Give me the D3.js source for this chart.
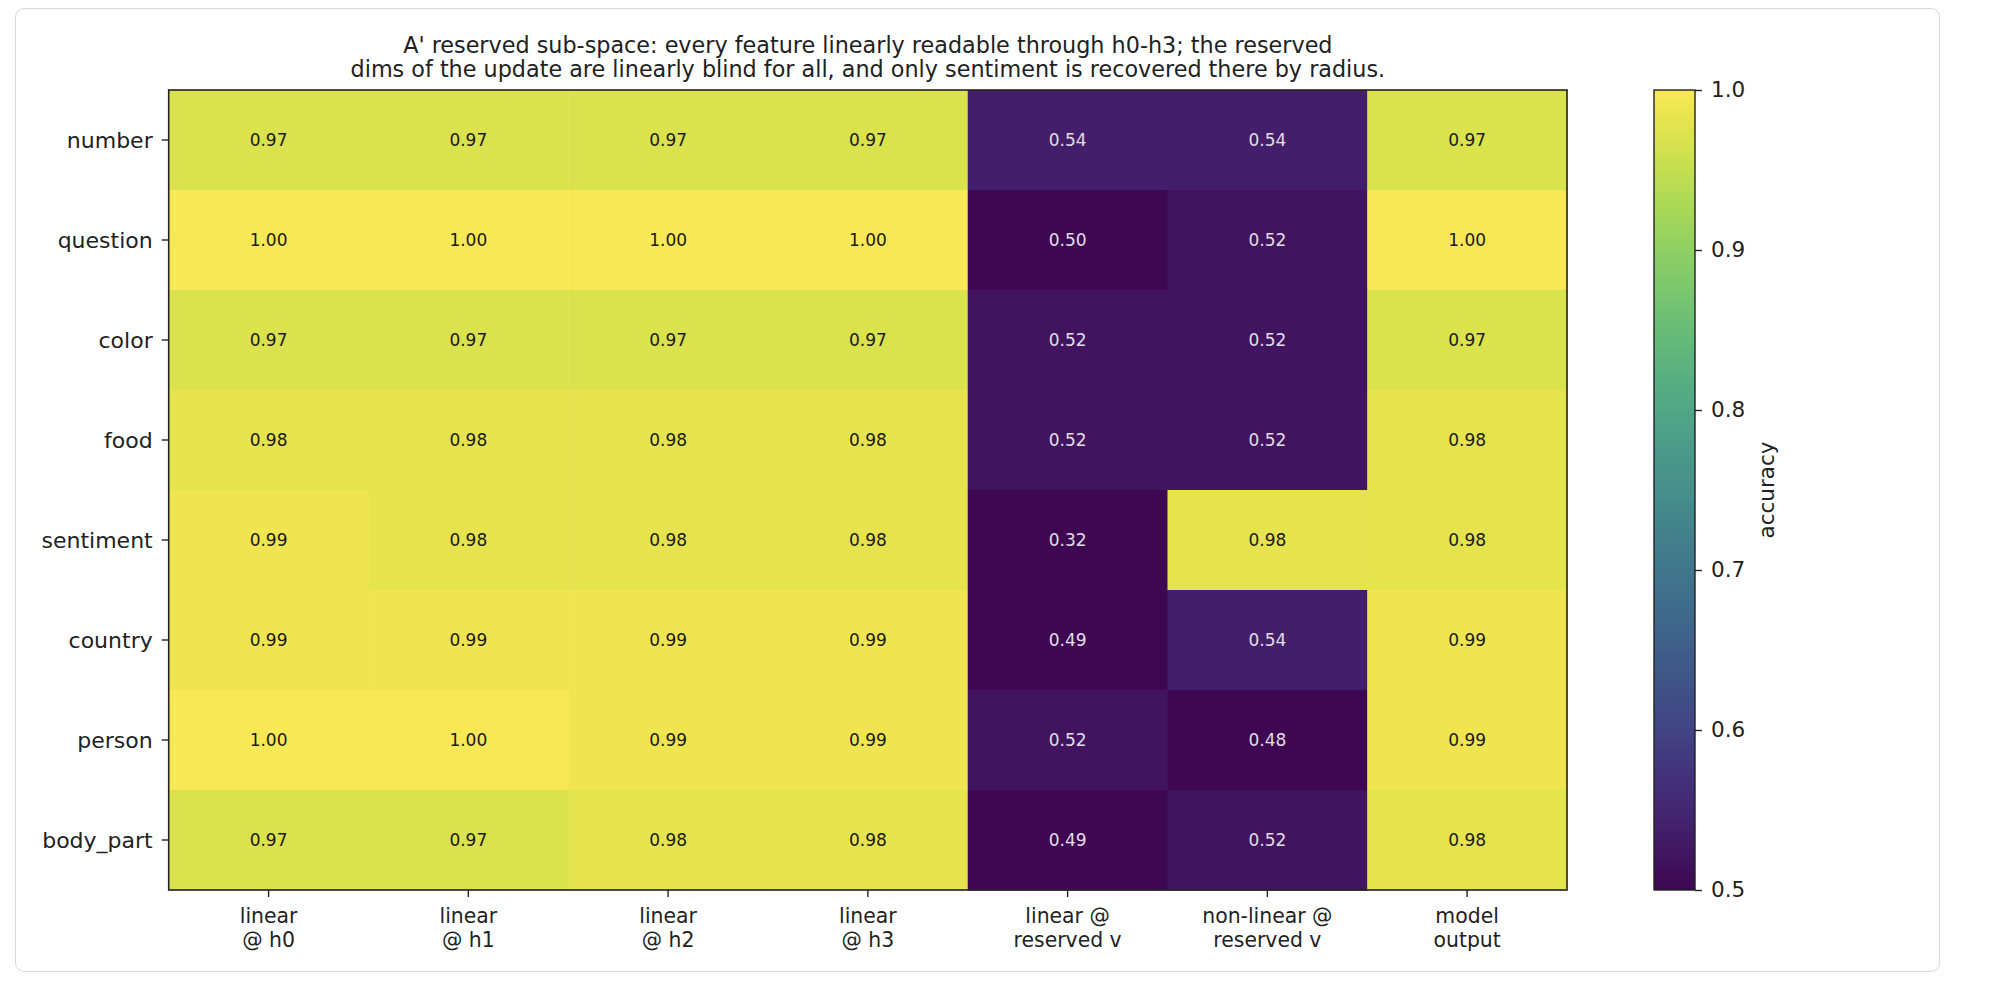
<!DOCTYPE html>
<html>
<head>
<meta charset="utf-8">
<script src="https://cdn.jsdelivr.net/npm/d3@7"></script>
<style>
  body { margin: 0; background: #fff; }
  .card { position: absolute; left: 15px; top: 8px; width: 1925px; height: 964px;
          border: 1.5px solid #d5d9dd; border-radius: 9px; box-sizing: border-box; }
  svg { position: absolute; left: 0; top: 0; }
  svg text { font-family: "DejaVu Sans", sans-serif; }
</style>
</head>
<body>
<div class="card"></div>
<div id="chart"></div>
<script>
(function(){

var features = ["number", "question", "color", "food", "sentiment", "country", "person", "body_part"];
var probes = ["linear\n@ h0", "linear\n@ h1", "linear\n@ h2", "linear\n@ h3",
              "linear @\nreserved v", "non-linear @\nreserved v", "model\noutput"];
var accuracy = [
  [0.97, 0.97, 0.97, 0.97, 0.54, 0.54, 0.97],
  [1.00, 1.00, 1.00, 1.00, 0.50, 0.52, 1.00],
  [0.97, 0.97, 0.97, 0.97, 0.52, 0.52, 0.97],
  [0.98, 0.98, 0.98, 0.98, 0.52, 0.52, 0.98],
  [0.99, 0.98, 0.98, 0.98, 0.32, 0.98, 0.98],
  [0.99, 0.99, 0.99, 0.99, 0.49, 0.54, 0.99],
  [1.00, 1.00, 0.99, 0.99, 0.52, 0.48, 0.99],
  [0.97, 0.97, 0.98, 0.98, 0.49, 0.52, 0.98]
];
var cbarTicks = [0.5, 0.6, 0.7, 0.8, 0.9, 1.0];
var title = ["A' reserved sub-space: every feature linearly readable through h0-h3; the reserved",
             "dims of the update are linearly blind for all, and only sentiment is recovered there by radius."];

var FONT = "'DejaVu Sans', sans-serif";
var W = 1999, H = 1004;
var left = 168.7, right = 1567, top = 90, bottom = 890;

// the reference screenshot carries a wide-gamut profile, so viridis looks a bit washed out
function shift(c) {
  var rgb = d3.rgb(c);
  var lin = [rgb.r, rgb.g, rgb.b].map(function(v) {
    v /= 255;
    return v <= 0.04045 ? v / 12.92 : Math.pow((v + 0.055) / 1.055, 2.4);
  });
  var m = [[0.8225, 0.1774, 0], [0.0332, 0.9669, 0], [0.0171, 0.0724, 0.9108]];
  var out = m.map(function(row) {
    var v = row[0] * lin[0] + row[1] * lin[1] + row[2] * lin[2];
    v = v <= 0.0031308 ? 12.92 * v : 1.055 * Math.pow(v, 1 / 2.4) - 0.055;
    return Math.round(Math.max(0, Math.min(1, v)) * 255);
  });
  return d3.rgb(out[0], out[1], out[2]).formatHex();
}
function viridis(t) { return shift(d3.interpolateViridis(t)); }

var svg = d3.select("#chart")
  .append("svg")
    .attr("width", W)
    .attr("height", H);

var x = d3.scaleBand().domain(d3.range(probes.length)).range([left, right]);
var y = d3.scaleBand().domain(d3.range(features.length)).range([top, bottom]);
var color = d3.scaleSequential(viridis).domain([0.5, 1.0]).clamp(true);

var cells = [];
accuracy.forEach(function(row, i) {
  row.forEach(function(v, j) { cells.push({r: i, c: j, v: v}); });
});

// heatmap cells
svg.append("g").selectAll("rect")
    .data(cells)
    .enter()
    .append("rect")
      .attr("x", function(d) { return x(d.c); })
      .attr("y", function(d) { return y(d.r); })
      .attr("width", x.bandwidth() + 0.5)
      .attr("height", y.bandwidth() + 0.5)
      .style("fill", function(d) { return color(d.v); });

svg.append("g").selectAll("text")
    .data(cells)
    .enter()
    .append("text")
      .attr("x", function(d) { return x(d.c) + x.bandwidth() / 2; })
      .attr("y", function(d) { return y(d.r) + y.bandwidth() / 2; })
      .attr("text-anchor", "middle")
      .attr("dy", "0.36em")
      .style("font-family", FONT)
      .style("font-size", "17px")
      .style("fill", function(d) { return d.v > 0.75 ? "#1a1a1a" : "#e2dee6"; })
      .text(function(d) { return d.v.toFixed(2); });

// frame
svg.append("rect")
    .attr("x", left).attr("y", top)
    .attr("width", right - left).attr("height", bottom - top)
    .style("fill", "none").style("stroke", "#222").style("stroke-width", 1.6);

// y axis
var yAxis = svg.append("g")
    .attr("transform", "translate(" + left + ",0)")
    .call(d3.axisLeft(y).tickSize(7).tickPadding(9).tickFormat(function(i) { return features[i]; }));
yAxis.select(".domain").remove();
yAxis.selectAll("text")
    .style("font-family", FONT).style("font-size", "22px").style("fill", "#222")
    .attr("dy", "0.36em");
yAxis.selectAll("line").style("stroke", "#222").style("stroke-width", 1.4);

// x axis
var xAxis = svg.append("g")
    .attr("transform", "translate(0," + bottom + ")")
    .call(d3.axisBottom(x).tickSize(7).tickFormat(""));
xAxis.select(".domain").remove();
xAxis.selectAll("line").style("stroke", "#222").style("stroke-width", 1.4);
xAxis.selectAll(".tick").each(function(i) {
  var t = d3.select(this).append("text")
      .attr("text-anchor", "middle")
      .attr("y", 33)
      .style("font-family", FONT)
      .style("font-size", "20.4px")
      .style("fill", "#222");
  probes[i].split("\n").forEach(function(s, k) {
    t.append("tspan").attr("x", 0).attr("dy", k ? 23.7 : 0).text(s);
  });
});

// title
svg.append("text")
    .attr("x", (left + right) / 2)
    .attr("y", 52.7)
    .attr("text-anchor", "middle")
    .style("font-family", FONT)
    .style("font-size", "22.3px")
    .style("fill", "#222")
    .selectAll("tspan")
    .data(title)
    .enter()
    .append("tspan")
      .attr("x", (left + right) / 2)
      .attr("dy", function(d, i) { return i ? 24.6 : 0; })
      .text(function(d) { return d; });

// colorbar
var cbLeft = 1654, cbWidth = 41;
var cy = d3.scaleLinear().domain([0.5, 1.0]).range([bottom, top]);

var grad = svg.append("defs").append("linearGradient")
    .attr("id", "viridis")
    .attr("x1", 0).attr("y1", 1).attr("x2", 0).attr("y2", 0);
d3.range(0, 1.0001, 0.05).forEach(function(t) {
  grad.append("stop")
      .attr("offset", t)
      .attr("stop-color", viridis(t));
});

svg.append("rect")
    .attr("x", cbLeft).attr("y", top)
    .attr("width", cbWidth).attr("height", bottom - top)
    .style("fill", "url(#viridis)")
    .style("stroke", "#222").style("stroke-width", 1.4);

var cAxis = svg.append("g")
    .attr("transform", "translate(" + (cbLeft + cbWidth) + ",0)")
    .call(d3.axisRight(cy).tickValues(cbarTicks).tickSize(7).tickPadding(9).tickFormat(d3.format(".1f")));
cAxis.select(".domain").remove();
cAxis.selectAll("text").style("font-family", FONT).style("font-size", "21.5px").style("fill", "#222");
cAxis.selectAll("line").style("stroke", "#222").style("stroke-width", 1.4);

svg.append("text")
    .attr("transform", "translate(1774," + ((top + bottom) / 2) + ") rotate(-90)")
    .attr("text-anchor", "middle")
    .style("font-family", FONT)
    .style("font-size", "21.5px")
    .style("fill", "#222")
    .text("accuracy");

})()
</script>
</body>
</html>
